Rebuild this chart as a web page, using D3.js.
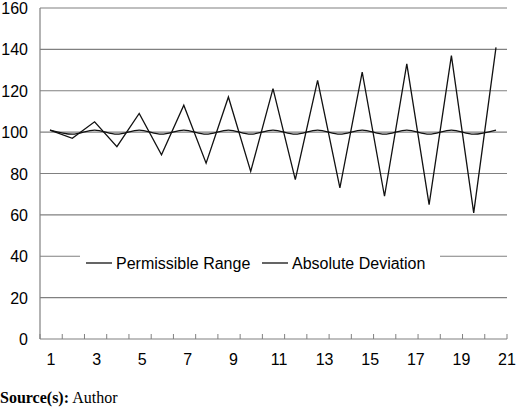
<!DOCTYPE html>
<html><head><meta charset="utf-8">
<script src="https://cdn.jsdelivr.net/npm/d3@7"></script>
<style>body{margin:0;background:#fff}</style>
</head><body><div class="graf"></div>
<script>
const periods = d3.range(1, 22);
const permissible = [101,99,101,99,101,99,101,99,101,99,101,99,101,99,101,99,101,99,101,99,101];
const deviation = [101,97,105,93,109,89,113,85,117,81,121,77,125,73,129,69,133,65,137,61,141];
const yTicks = [0,20,40,60,80,100,120,140,160];
const xLabels = [1,3,5,7,9,11,13,15,17,19,21];

function main(){
    let width = 520, height = 409;
    let svg = d3.select('.graf').append('svg').attr('width', width).attr('height', height);

    let y = d3.scaleLinear().domain([0,160]).range([339, 8]);
    let x = d3.scaleLinear().domain([1,21]).range([50, 496]);
    let xl = d3.scaleLinear().domain([1,21]).range([51, 507]);

    // grid
    svg.append('g').selectAll('line').data(yTicks.slice(1)).join('line')
        .attr('x1', 40).attr('x2', 507).attr('y1', d => y(d)).attr('y2', d => y(d))
        .attr('stroke', '#808080').attr('stroke-width', 1.2);

    // axes
    svg.append('line').attr('x1', 40).attr('x2', 40).attr('y1', y(160)).attr('y2', y(0)).attr('stroke', '#808080').attr('stroke-width', 1.2);
    svg.append('line').attr('x1', 40).attr('x2', 507).attr('y1', y(0)).attr('y2', y(0)).attr('stroke', '#808080').attr('stroke-width', 1.2);
    svg.append('g').selectAll('line').data(d3.range(0, 22)).join('line')
        .attr('x1', i => 40 + i * 467 / 21).attr('x2', i => 40 + i * 467 / 21)
        .attr('y1', y(0)).attr('y2', y(0) - 5).attr('stroke', '#808080');

    svg.append('g').selectAll('text').data(yTicks).join('text')
        .attr('x', 28).attr('y', d => y(d) + 6).attr('text-anchor', 'end')
        .attr('font-family', 'Liberation Sans, Arial').attr('font-size', 16).text(d => d);
    svg.append('g').selectAll('text').data(xLabels).join('text')
        .attr('x', d => xl(d)).attr('y', 365).attr('text-anchor', 'middle')
        .attr('font-family', 'Liberation Sans, Arial').attr('font-size', 16).text(d => d);

    let line = d3.line().x((d, i) => x(periods[i])).y(d => y(d));
    svg.append('path').datum(permissible).attr('d', line.curve(d3.curveMonotoneX))
        .attr('fill', 'none').attr('stroke', '#111').attr('stroke-width', 1.3);
    svg.append('path').datum(deviation).attr('d', d3.line().x((d, i) => x(periods[i])).y(d => y(d)))
        .attr('fill', 'none').attr('stroke', '#111').attr('stroke-width', 1.3);

    // legend
    let lg = svg.append('g');
    lg.append('rect').attr('x', 80).attr('y', 251).attr('width', 360).attr('height', 24).attr('fill', '#fff');
    [['Permissible Range', 86], ['Absolute Deviation', 262]].forEach(([t, lx]) => {
        lg.append('line').attr('x1', lx).attr('x2', lx + 26).attr('y1', 263).attr('y2', 263).attr('stroke', '#111').attr('stroke-width', 1.3);
        lg.append('text').attr('x', lx + 30).attr('y', 269).attr('font-family', 'Liberation Sans, Arial').attr('font-size', 16).text(t);
    });

    let src = svg.append('text').attr('x', 0).attr('y', 403).attr('font-family', 'Liberation Serif, Times New Roman').attr('font-size', 16);
    src.append('tspan').attr('font-weight', 'bold').text('Source(s):');
    src.append('tspan').text(' Author');
}
main();
</script></body></html>
